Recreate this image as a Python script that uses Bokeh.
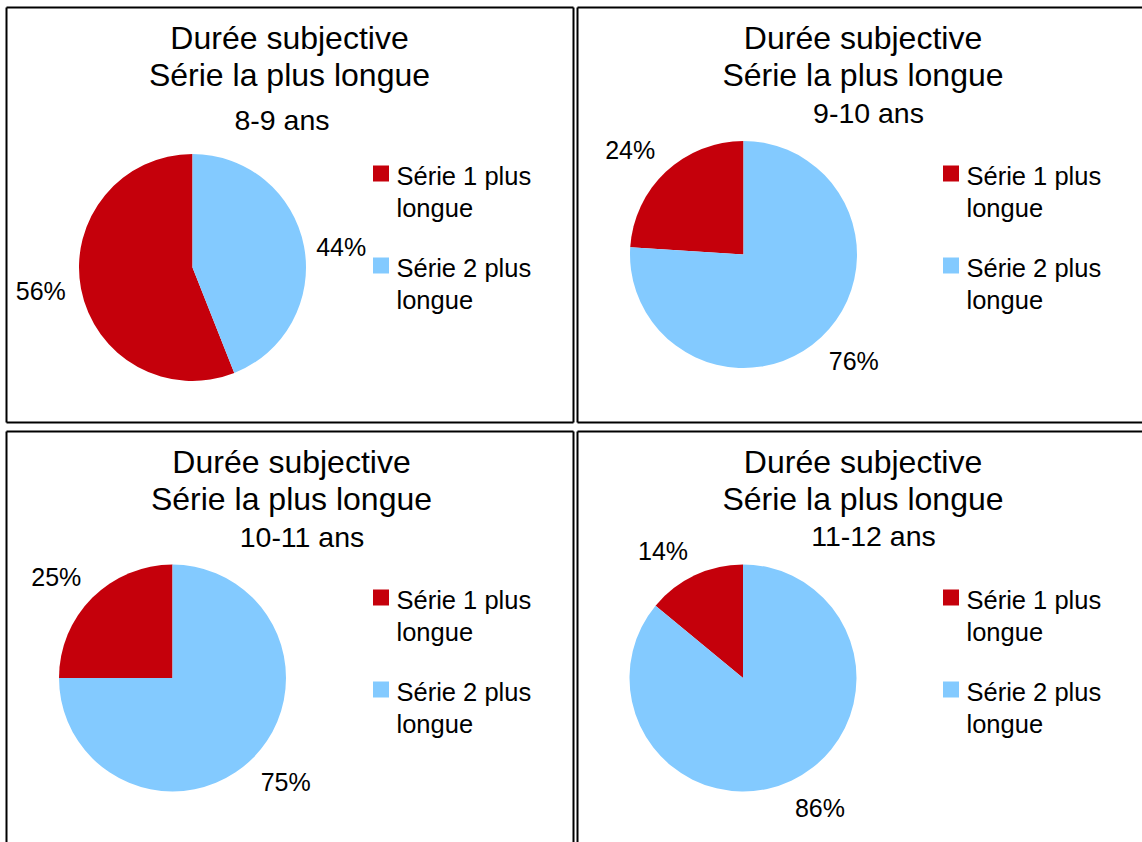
import math
from bokeh.plotting import figure
from bokeh.models import Range1d, ColumnDataSource
from bokeh.core.properties import value
from bokeh.embed import file_html
from bokeh.resources import INLINE

# ---------------- data ----------------
groups = ["8-9 ans", "9-10 ans", "10-11 ans", "11-12 ans"]
serie1 = [56, 24, 25, 14]
serie2 = [44, 76, 75, 86]
series_labels = ["Série 1 plus longue", "Série 2 plus longue"]
title_lines = ["Durée subjective", "Série la plus longue"]
colors = ["#C5000B", "#83CAFF"]

# ---------------- layout (reference pixel positions) ----------------
W, H = 1142, 842
FONT = "Liberation Sans"


def X(rx):
    return rx


def Y(ry):
    return H - ry


panel_dx = [0, 570, 0, 570]
panel_dy = [0, 0, 424, 424]
pie_centers = [(192, 267), (743, 254), (172, 677.5), (742.5, 677.5)]
subtitle_pos = [(281.5, 130.5), (868, 123), (301.5, 547), (873, 546.7)]
title_cx = [289, 862.5, 291, 862.5]
RADIUS = 113.5
LABEL_R = 129
TITLE_FS = 32
SUB_FS = 28.5
LBL_FS = 25
LEG_FS = 25.5
BASE_FIX = 0.38  # empirical baseline correction (fraction of font size)

p = figure(width=W, height=H, x_range=Range1d(0, W), y_range=Range1d(0, H),
           min_border=0, toolbar_location=None, output_backend="svg",
           x_axis_location=None, y_axis_location=None,
           outline_line_color=None, background_fill_color="white",
           border_fill_color="white")
p.grid.grid_line_color = None

# panel borders
bx0, by0, bx1, by1 = [], [], [], []


def seg(a, b, c, d):
    bx0.append(a); by0.append(b); bx1.append(c); by1.append(d)


t1, b1 = Y(7), Y(422)
t2 = Y(431)
l1, r1, l2 = X(6), X(573), X(577)
# panel 1
seg(l1, t1, l1, b1); seg(l1, t1, r1, t1); seg(r1, t1, r1, b1); seg(l1, b1, r1, b1)
# panel 2
seg(l2, t1, W, t1); seg(l2, t1, l2, b1); seg(l2, b1, W, b1)
# panel 3
seg(l1, t2, r1, t2); seg(l1, t2, l1, 0); seg(r1, t2, r1, 0)
# panel 4
seg(l2, t2, W, t2); seg(l2, t2, l2, 0)
p.segment(x0=bx0, y0=by0, x1=bx1, y1=by1, line_color="black", line_width=2)


def txt(xs, ys, texts, fs, align="center"):
    ys = [y + BASE_FIX * fs for y in ys]
    p.text(x=xs, y=ys, text=texts, text_font=value(FONT),
           text_font_size=f"{fs}px", text_align=align,
           text_baseline="alphabetic", text_color="black")


for i, grp in enumerate(groups):
    dx, dy = panel_dx[i], panel_dy[i]
    # titles
    txt([X(title_cx[i]), X(title_cx[i])], [Y(50 + dy), Y(86.7 + dy)], title_lines, TITLE_FS)
    sx, sy = subtitle_pos[i]
    txt([X(sx)], [Y(sy)], [grp], SUB_FS)

    # pie
    cx, cy = X(pie_centers[i][0]), Y(pie_centers[i][1])
    vals = [serie1[i], serie2[i]]
    total = sum(vals)
    starts, ends = [], []
    a = math.pi / 2
    for v in vals:
        starts.append(a)
        a = a + 2 * math.pi * v / total
        ends.append(a)
    src = ColumnDataSource(dict(x=[cx, cx], y=[cy, cy], s=starts, e=ends, c=colors))
    p.wedge(x="x", y="y", radius=RADIUS, start_angle="s", end_angle="e",
            direction="anticlock", fill_color="c", line_color=None, source=src)

    # percentage labels
    lx, ly, lt = [], [], []
    for v, s0, e0 in zip(vals, starts, ends):
        m = (s0 + e0) / 2
        c, s = math.cos(m), math.sin(m)
        w = LBL_FS * 2.0
        h = 19
        ox = (w / 2) * (1 if c > 0 else -1) if abs(c) > 0.3 else 0
        oy = (h / 2) * (1 if s > 0 else -1) if abs(s) > 0.3 else 0
        if c > 0:
            ox -= 3
            oy -= 4
        lx.append(cx + LABEL_R * c + ox)
        ly.append(cy + LABEL_R * s + oy - 0.358 * LBL_FS)
        lt.append(f"{v}%")
    txt(lx, ly, lt, LBL_FS)

    # legend
    for k, lab in enumerate(series_labels):
        off = 92 * k
        p.rect(x=[X(380.5 + dx)], y=[Y(173 + off + dy)], width=16, height=16,
               fill_color=colors[k], line_color=None)
        a1, a2 = lab.rsplit(" ", 1)
        txt([X(396 + dx), X(396 + dx)],
            [Y(185 + off + dy), Y(216.7 + off + dy)], [a1, a2], LEG_FS, align="left")

open("out.html", "w").write(file_html(p, INLINE))
